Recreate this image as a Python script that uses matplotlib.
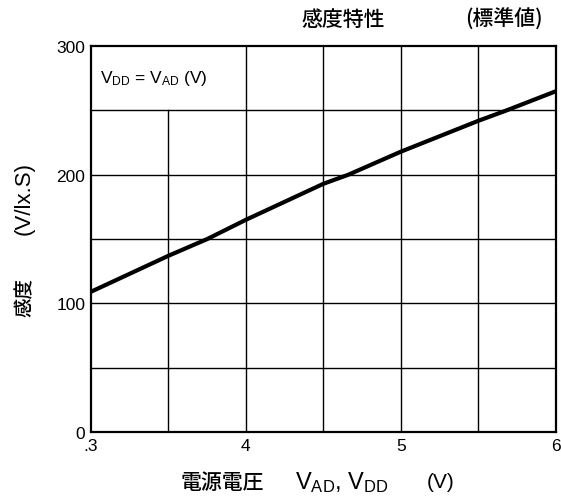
import matplotlib.pyplot as plt

plt.rcParams['font.family'] = ['Liberation Sans', 'Noto Sans CJK JP']
plt.rcParams['mathtext.fontset'] = 'custom'
plt.rcParams['mathtext.rm'] = 'Liberation Sans'
plt.rcParams['mathtext.it'] = 'Liberation Sans'

# 感度特性 (標準値)
vdd = [3.0, 3.5, 3.75, 4.0, 4.5, 4.66, 5.0, 5.5, 5.68, 6.0]
sens = [109, 137, 150, 165, 193, 200, 218, 242, 250, 265]

xticks = [3, 4, 5, 6]
xticklabels = ['.3', '4', '5', '6']
yticks = [0, 100, 200, 300]

fig = plt.figure(figsize=(5.61, 5.02), dpi=100)
ax = fig.add_axes([0.162, 0.1375, 0.829, 0.7685])

# グリッド (3.5の縦線は注記枠の下で止まる)
for y in [50, 100, 150, 200, 250]:
    ax.plot([3, 6], [y, y], color='black', lw=1.0, zorder=1)
for x in [4, 4.5, 5, 5.5]:
    ax.plot([x, x], [0, 300], color='black', lw=1.0, zorder=1)
ax.plot([3.5, 3.5], [0, 250], color='black', lw=1.0, zorder=1)

ax.plot(vdd, sens, color='black', lw=3.0, zorder=3)

ax.set_xlim(3, 6)
ax.set_ylim(0, 300)
ax.set_xticks(xticks)
ax.set_xticklabels(xticklabels)
ax.set_yticks(yticks)
ax.tick_params(length=0, labelsize=12.5, pad=4)
for s in ax.spines.values():
    s.set_linewidth(1.6)

ax.text(3.06, 276, r'V$_{\mathrm{DD}}$ = V$_{\mathrm{AD}}$ (V)', fontsize=12.5,
        ha='left', va='center')

fig.text(0.611, 0.96, '感度特性', fontsize=15, ha='center', va='center',
         family=['Noto Sans CJK JP'], weight='medium')
fig.text(0.899, 0.96, '(標準値)', fontsize=15, ha='center', va='center',
         family=['Noto Sans CJK JP'], weight='medium')

fig.text(0.043, 0.604, '(V/lx.S)', fontsize=16, rotation=90, ha='center', va='center')
fig.text(0.045, 0.408, '感度', fontsize=14, rotation=90, ha='center', va='center',
         family=['Noto Sans CJK JP'], weight='medium')

fig.text(0.397, 0.038, '電源電圧', fontsize=15, ha='center', va='center',
         family=['Noto Sans CJK JP'], weight='medium')
fig.text(0.526, 0.038, r'V$_{\mathrm{AD}}$, V$_{\mathrm{DD}}$', fontsize=17, ha='left', va='center')
fig.text(0.761, 0.038, '(V)', fontsize=15, ha='left', va='center')

plt.savefig('out.png', dpi=100)
